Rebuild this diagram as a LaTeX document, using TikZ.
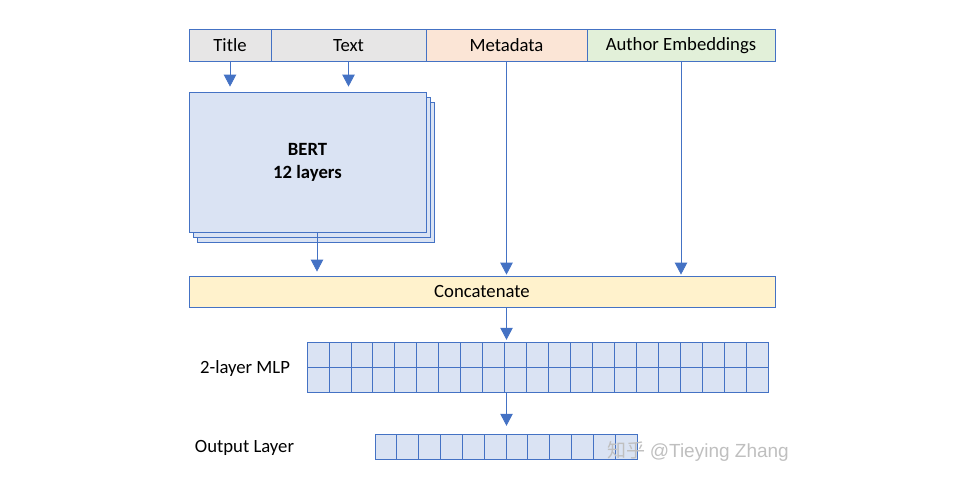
\documentclass[tikz,border=0pt]{standalone}
\usepackage{fontspec}
\setmainfont{Carlito}
\newfontfamily\cjkfont{Noto Sans CJK SC}
\newfontfamily\markfont{Liberation Sans}
\usetikzlibrary{arrows.meta,positioning}
\definecolor{edgeblue}{RGB}{68,114,196}
\definecolor{greyfill}{RGB}{231,230,230}
\definecolor{orangefill}{RGB}{251,229,214}
\definecolor{greenfill}{RGB}{226,240,217}
\definecolor{bluefill}{RGB}{218,227,243}
\definecolor{yellowfill}{RGB}{255,242,204}
\begin{document}
\begin{tikzpicture}[x=1pt,y=-1pt,>={Triangle[width=12.5pt,length=12pt]},
	inbox/.style={draw=edgeblue,line width=0.8pt,minimum height=32pt,inner sep=0pt,font=\fontsize{18.7}{22}\selectfont},
	stackbox/.style={draw=edgeblue,line width=0.8pt,fill=bluefill},
	cell/.style={draw=edgeblue,line width=0.8pt,fill=bluefill},
	link/.style={edgeblue,line width=0.8pt,->},
	label/.style={font=\fontsize{18.7}{22}\selectfont}]
	\useasboundingbox (0,0) rectangle (959,479);
	% input fields
	\node[inbox,fill=greyfill,minimum width=82pt] (title) at (230,45.5) {Title};
	\node[inbox,fill=greyfill,minimum width=155pt] (text) at (348.5,45.5) {Text};
	\node[inbox,fill=orangefill,minimum width=161pt] (meta) at (506.5,45.5) {Metadata};
	\node[inbox,fill=greenfill,minimum width=188pt] (author) at (681,45.5) {Author Embeddings};
	% BERT stack
	\foreach \s in {2,1}{
		\draw[stackbox] (189+4*\s,92+5*\s) rectangle (426+4*\s,232+5*\s);
	}
	\node[stackbox,minimum width=237pt,minimum height=140pt,align=center,font=\fontsize{18.7}{23}\selectfont\bfseries] (bert) at (307.5,162) {BERT\\12 layers};
	\node[inbox,fill=yellowfill,minimum width=586pt,minimum height=31pt] (concat) at (482,291.5) {Concatenate};
	% MLP grid
	\node[minimum width=461pt,minimum height=50pt,inner sep=0pt] (mlp) at (537.5,367) {};
	\foreach \i in {0,...,20}{
		\foreach \j in {0,1}{
			\draw[cell] (307+21.952*\i,342+25*\j) rectangle ++(21.952,25);
		}
	}
	\node[minimum width=262pt,minimum height=25pt,inner sep=0pt] (outl) at (506,446.5) {};
	\foreach \i in {0,...,11}{
		\draw[cell] (375+21.833*\i,434) rectangle ++(21.833,25);
	}
	\node[label] (mlplabel) at (245,369) {2-layer MLP};
	\node[label] (outlabel) at (244.5,448) {Output Layer};
	% arrows
	\draw[link,shorten >=5pt] (title.south) -- (title.south |- bert.north);
	\draw[link,shorten >=5pt] (text.south) -- (text.south |- bert.north);
	\draw[link,shorten >=4pt] ([xshift=9.5pt]bert.south) -- ([xshift=9.5pt]bert.south |- concat.north);
	\draw[link,shorten >=1pt] (meta.south) -- (meta.south |- concat.north);
	\draw[link,shorten >=1pt] (author.south) -- (author.south |- concat.north);
	\draw[link,shorten >=2pt] (concat.south -| meta.south) -- (mlp.north -| meta.south);
	\draw[link,shorten >=8pt] (mlp.south -| meta.south) -- (outl.north -| meta.south);
	\node[anchor=west,text=black!25,font=\fontsize{19}{22}\selectfont] (mark) at (604,451) {{\cjkfont 知乎}\ {\markfont @Tieying Zhang}};
\end{tikzpicture}
\end{document}
